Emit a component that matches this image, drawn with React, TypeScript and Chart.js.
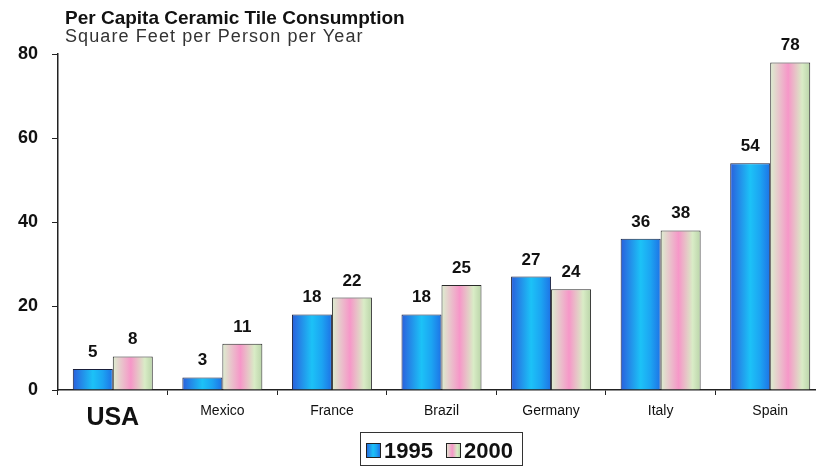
import React, { useEffect, useRef } from "react";
import { Chart, registerables } from "chart.js";

Chart.register(...registerables);

const categories = ["USA", "Mexico", "France", "Brazil", "Germany", "Italy", "Spain"];
const values1995 = [5, 3, 18, 18, 27, 36, 54];
const values2000 = [8, 11, 22, 25, 24, 38, 78];
const seriesNames = ["1995", "2000"];
const yTicks = [0, 20, 40, 60, 80];
const titleText = "Per Capita Ceramic Tile Consumption";
const subtitleText = "Square Feet per Person per Year";

const FONT = '"Liberation Sans", Arial, sans-serif';
const CAT_PCT = 0.73;
const CANVAS_W = 825;
const CANVAS_H = 466;

const blueStops: [number, string][] = [
  [0, "#2a5fdc"],
  [0.5, "#1cc2f7"],
  [0.75, "#1ca4f2"],
  [1, "#1e72e6"],
];
const pinkStops: [number, string][] = [
  [0, "#dcefcf"],
  [0.45, "#f697c8"],
  [0.8, "#d9ecc6"],
  [1, "#b9d4a8"],
];

function makeGrad(ctx: CanvasRenderingContext2D, x0: number, x1: number, stops: [number, string][]) {
  const g = ctx.createLinearGradient(x0, 0, x1, 0);
  stops.forEach(([o, c]) => g.addColorStop(o, c));
  return g;
}

function barFill(stops: [number, string][], fallback: string) {
  return (c: any) => {
    const chart = c.chart;
    const xs = chart.scales && chart.scales.x;
    if (!xs || c.dataIndex === undefined || !chart.chartArea) return fallback;
    const center = xs.getPixelForValue(c.dataIndex);
    const catW = (xs.right - xs.left) / categories.length;
    const w = (catW * CAT_PCT) / 2;
    const left = c.datasetIndex === 0 ? center - w : center;
    return makeGrad(chart.ctx, left, left + w, stops);
  };
}

const decorPlugin = {
  id: "decor",
  afterDraw(chart: any) {
    const ctx: any = chart.ctx;
    ctx.save();
    // title and subtitle
    ctx.fillStyle = "#111";
    ctx.textAlign = "left";
    ctx.textBaseline = "alphabetic";
    ctx.font = `bold 19px ${FONT}`;
    ctx.fillText(titleText, 65, 24);
    ctx.fillStyle = "#333";
    ctx.font = `18px ${FONT}`;
    ctx.letterSpacing = "1.1px";
    ctx.fillText(subtitleText, 65, 42);
    ctx.letterSpacing = "0px";

    // value labels
    ctx.fillStyle = "#111";
    ctx.font = `bold 17px ${FONT}`;
    ctx.textAlign = "center";
    chart.data.datasets.forEach((ds: any, di: number) => {
      const meta = chart.getDatasetMeta(di);
      meta.data.forEach((el: any, i: number) => {
        ctx.fillText(String(ds.data[i]), el.x, el.y - 12);
      });
    });

    // legend
    const bx = 360, by = 432, bw = 162, bh = 33;
    ctx.strokeStyle = "#333";
    ctx.lineWidth = 1;
    ctx.strokeRect(bx + 0.5, by + 0.5, bw, bh);
    const items = [
      { x: 366, stops: blueStops, text: seriesNames[0] },
      { x: 446, stops: pinkStops, text: seriesNames[1] },
    ];
    ctx.font = `bold 22px ${FONT}`;
    ctx.textAlign = "left";
    items.forEach((it) => {
      ctx.fillStyle = makeGrad(ctx, it.x, it.x + 14, it.stops);
      ctx.fillRect(it.x, 443, 14, 14);
      ctx.strokeStyle = "#222";
      ctx.strokeRect(it.x + 0.5, 443.5, 14, 14);
      ctx.fillStyle = "#111";
      ctx.fillText(it.text, it.x + 18, 458);
    });
    ctx.restore();
  },
};

export default function App() {
  const ref = useRef<HTMLCanvasElement | null>(null);
  useEffect(() => {
    if (!ref.current) return;
    const chart = new Chart(ref.current, {
      type: "bar",
      data: {
        labels: categories,
        datasets: [
          {
            label: seriesNames[0],
            data: values1995,
            backgroundColor: barFill(blueStops, "#1ea8f2"),
            borderColor: "#1a1f3a",
            borderWidth: 1,
            barPercentage: 1,
            categoryPercentage: CAT_PCT,
          },
          {
            label: seriesNames[1],
            data: values2000,
            backgroundColor: barFill(pinkStops, "#f0b8d0"),
            borderColor: "#2a2a2a",
            borderWidth: 1,
            barPercentage: 1,
            categoryPercentage: CAT_PCT,
          },
        ],
      },
      options: {
        animation: false,
        responsive: false,
        events: [],
        layout: { padding: { top: 54, left: 0, right: 0, bottom: 0 } },
        plugins: {
          legend: { display: false },
          title: { display: false },
          tooltip: { enabled: false },
        },
        scales: {
          x: {
            type: "category",
            offset: true,
            grid: {
              display: true,
              drawOnChartArea: false,
              drawTicks: true,
              tickLength: 5,
              offset: true,
              color: "#222",
            },
            border: { display: true, color: "#222", width: 1.5 },
            ticks: {
              color: "#111",
              padding: 8,
              font: (c: any) =>
                c.index === 0
                  ? { family: FONT, size: 25, weight: "bold" }
                  : { family: FONT, size: 14, weight: "normal" },
            },
            afterFit: (s: any) => {
              s.height = 76;
            },
          },
          y: {
            min: 0,
            max: 80,
            afterBuildTicks: (s: any) => {
              s.ticks = yTicks.map((v) => ({ value: v }));
            },
            grid: {
              display: true,
              drawOnChartArea: false,
              drawTicks: true,
              tickLength: 6,
              color: "#222",
            },
            border: { display: true, color: "#222", width: 1.5 },
            ticks: {
              color: "#111",
              padding: 14,
              font: { family: FONT, size: 18, weight: "bold" },
            },
            afterFit: (s: any) => {
              s.width = 58;
            },
          },
        },
      },
      plugins: [decorPlugin],
    });
    return () => chart.destroy();
  }, []);
  return (
    <div
      style={{
        position: "fixed",
        left: 0,
        top: 0,
        width: 816,
        height: 466,
        overflow: "hidden",
        background: "#fff",
      }}
    >
      <canvas
        ref={ref}
        width={CANVAS_W}
        height={CANVAS_H}
        style={{ display: "block", width: CANVAS_W, height: CANVAS_H }}
      />
    </div>
  );
}
